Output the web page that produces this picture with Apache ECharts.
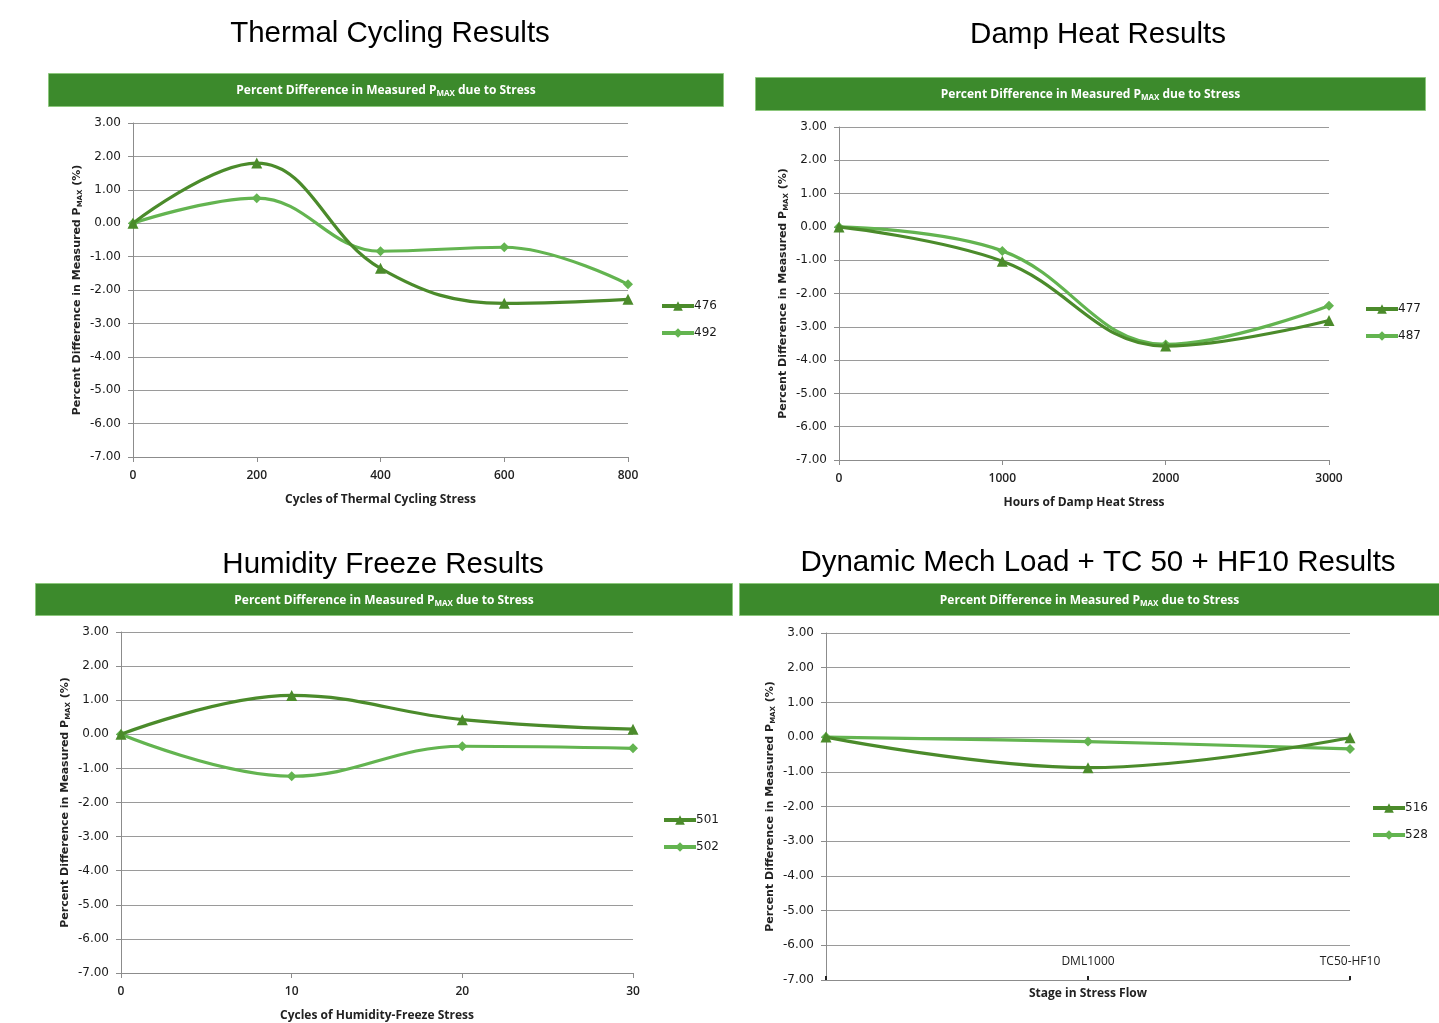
<!DOCTYPE html>
<html><head><meta charset="utf-8">
<script src="https://cdn.jsdelivr.net/npm/echarts@6/dist/echarts.min.js"></script>
<style>html,body{margin:0;padding:0;background:#fff}#c{width:1439px;height:1023px}</style>
</head><body><div id="c"></div>
<script>
// ---- data ----
const tcX = [0, 200, 400, 600, 800];
const tc476 = [0.00, 1.80, -1.35, -2.40, -2.28];
const tc492 = [0.00, 0.75, -0.84, -0.72, -1.83];

const dhX = [0, 1000, 2000, 3000];
const dh477 = [0.00, -1.03, -3.58, -2.81];
const dh487 = [0.00, -0.72, -3.53, -2.37];

const hfX = [0, 10, 20, 30];
const hf501 = [0.00, 1.14, 0.43, 0.15];
const hf502 = [0.00, -1.23, -0.35, -0.41];

const dmlCats = ['', 'DML1000', 'TC50-HF10'];
const dml516 = [0.00, -0.88, -0.02];
const dml528 = [0.00, -0.13, -0.34];

const yMin = -7, yMax = 3, yStep = 1;

const panelTitles = ['Thermal Cycling Results', 'Damp Heat Results', 'Humidity Freeze Results', 'Dynamic Mech Load + TC 50 + HF10 Results'];
const xNames = ['Cycles of Thermal Cycling Stress', 'Hours of Damp Heat Stress', 'Cycles of Humidity-Freeze Stress', 'Stage in Stress Flow'];

// ---- styles ----
const DARK = '#4b8b2b', LIGHT = '#63b450', BANNER = '#3c8a2c';
const tickFont = 'DejaVu Sans';
const calFont = 'Open Sans';

const grids = [
  {left: 133, top: 123, width: 495, height: 334},
  {left: 839, top: 127, width: 490, height: 333},
  {left: 121, top: 632, width: 512, height: 344},
  {left: 826, top: 633, width: 524, height: 347}
];
const banners = [
  {x: 48, y: 73, w: 675, h: 33},
  {x: 755, y: 77, w: 670, h: 33},
  {x: 35, y: 583, w: 697, h: 32},
  {x: 739, y: 583, w: 700, h: 32}
];
const titlePos = [{x: 385, y: 14}, {x: 1093, y: 15}, {x: 378, y: 545}, {x: 1093, y: 543}];
const legendPos = [{l: 655, t: 295}, {l: 1359, t: 298}, {l: 657, t: 809}, {l: 1366, t: 797}];

function yAxis(i) {
  return {
    type: 'value', gridIndex: i, min: yMin, max: yMax, interval: yStep,
    name: '{n|Percent Difference in Measured P}{s|MAX}{n| (%)}',
    nameLocation: 'middle', nameGap: 49, nameRotate: 90,
    nameTextStyle: {rich: {
      n: {fontFamily: tickFont, fontWeight: 'bold', fontSize: 11, color: '#222'},
      s: {fontFamily: tickFont, fontWeight: 'bold', fontSize: 7, color: '#222', verticalAlign: 'bottom', padding: [6, 0, 0, 0]}
    }},
    axisLine: {show: true, lineStyle: {color: '#8c8c8c', width: 1}},
    axisTick: {show: true, length: 5, lineStyle: {color: '#8c8c8c'}},
    splitLine: {show: true, lineStyle: {color: '#9a9a9a', width: 1}},
    axisLabel: {fontFamily: tickFont, fontSize: 12, color: '#1a1a1a', margin: 12, formatter: v => v.toFixed(2)}
  };
}
function xValAxis(i, min, max, step) {
  return {
    type: 'value', gridIndex: i, min: min, max: max, interval: step,
    name: xNames[i], nameLocation: 'middle', nameGap: 37,
    nameTextStyle: {fontFamily: calFont, fontWeight: 'bold', fontSize: 12, color: '#222'},
    axisLine: {show: true, onZero: false, lineStyle: {color: '#8c8c8c'}},
    axisTick: {show: true, length: 5, lineStyle: {color: '#8c8c8c'}},
    splitLine: {show: false},
    axisLabel: {fontFamily: calFont, fontSize: 12, fontWeight: 600, color: '#222', margin: 13, formatter: v => String(v)}
  };
}

function line(name, xs, ys, i, dark) {
  const data = xs ? xs.map((x, k) => [x, ys[k]]) : ys;
  return {
    name: name, type: 'line', xAxisIndex: i, yAxisIndex: i, data: data,
    smooth: 0.4,
    symbol: dark ? 'triangle' : 'diamond', symbolSize: dark ? 11 : 10,
    itemStyle: {color: dark ? DARK : LIGHT},
    lineStyle: {width: 3.2, color: dark ? DARK : LIGHT},
    z: dark ? 3 : 2
  };
}

const graphic = banners.map(b => ({
  type: 'group', left: b.x, top: b.y,
  children: [
    {type: 'rect', shape: {x: 0, y: 0, width: b.w, height: b.h}, style: {fill: BANNER, stroke: '#8cc77c', lineWidth: 1}},
    {type: 'text', x: b.w / 2, y: b.h / 2 + 1, style: {
      text: '{n|Percent Difference in Measured P}{s|MAX}{n| due to Stress}',
      align: 'center', verticalAlign: 'middle',
      rich: {
        n: {fontFamily: calFont, fontWeight: 'bold', fontSize: 12, fill: '#fff'},
        s: {fontFamily: calFont, fontWeight: 'bold', fontSize: 8, fill: '#fff', padding: [6, 0, 0, 0]}
      }
    }}
  ]
}));

const titles = panelTitles.map((t, i) => ({
  text: t, left: titlePos[i].x, top: titlePos[i].y, textAlign: 'center',
  textStyle: {fontFamily: 'Liberation Sans', fontSize: 29.5, fontWeight: 'normal', color: '#000'}
}));

const legendNames = [['476', '492'], ['477', '487'], ['501', '502'], ['516', '528']];
const legends = legendNames.map((d, i) => ({
  data: d, orient: 'vertical', left: legendPos[i].l, top: legendPos[i].t,
  itemWidth: 32, itemHeight: 12, itemGap: 15,
  lineStyle: {width: 4},
  textStyle: {fontFamily: tickFont, fontSize: 12, color: '#1a1a1a', padding: [0, 0, 0, -5]},
  selectedMode: false
}));

const catAxis = {
  type: 'category', gridIndex: 3, data: dmlCats, boundaryGap: false,
  name: xNames[3], nameLocation: 'middle', nameGap: 8,
  nameTextStyle: {fontFamily: calFont, fontWeight: 'bold', fontSize: 12, color: '#222'},
  axisLine: {show: true, onZero: false, lineStyle: {color: '#8c8c8c'}},
  axisTick: {show: true, length: 4, inside: true, interval: 0, lineStyle: {color: '#222', width: 2}},
  splitLine: {show: false},
  axisLabel: {inside: true, interval: 0, fontFamily: calFont, fontSize: 12, color: '#222', margin: 12}
};

const option = {
  animation: false,
  backgroundColor: '#fff',
  title: titles,
  graphic: graphic,
  legend: legends,
  grid: grids,
  xAxis: [xValAxis(0, 0, 800, 200), xValAxis(1, 0, 3000, 1000), xValAxis(2, 0, 30, 10), catAxis],
  yAxis: [yAxis(0), yAxis(1), yAxis(2), yAxis(3)],
  series: [
    line('476', tcX, tc476, 0, true), line('492', tcX, tc492, 0, false),
    line('477', dhX, dh477, 1, true), line('487', dhX, dh487, 1, false),
    line('501', hfX, hf501, 2, true), line('502', hfX, hf502, 2, false),
    line('516', null, dml516, 3, true), line('528', null, dml528, 3, false)
  ]
};
echarts.init(document.getElementById('c'), null, {renderer: 'canvas'}).setOption(option);
</script></body></html>
